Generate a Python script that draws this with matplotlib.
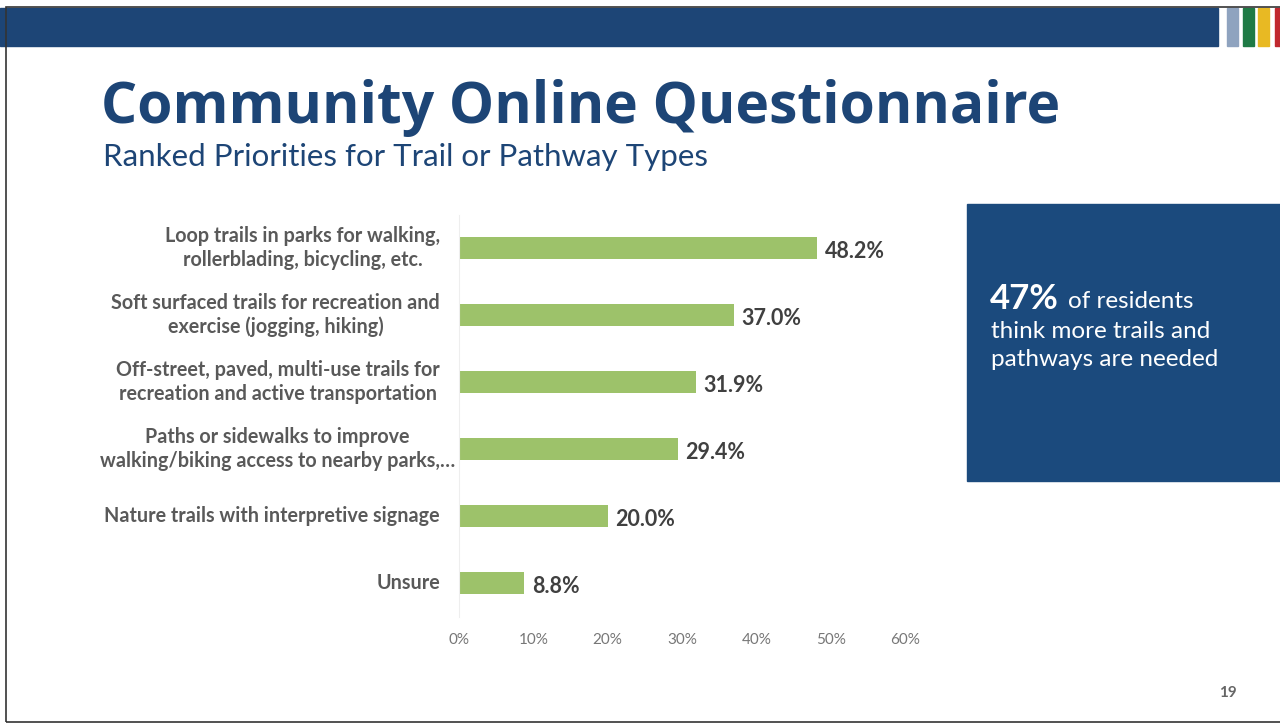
import matplotlib.pyplot as plt
import matplotlib.patches as patches

categories = [
    "Loop trails in parks for walking,\nrollerblading, bicycling, etc.",
    "Soft surfaced trails for recreation and\nexercise (jogging, hiking)",
    "Off-street, paved, multi-use trails for\nrecreation and active transportation",
    "Paths or sidewalks to improve\nwalking/biking access to nearby parks,\u2026",
    "Nature trails with interpretive signage",
    "Unsure",
]
values = [48.2, 37.0, 31.9, 29.4, 20.0, 8.8]
ticks = [0, 10, 20, 30, 40, 50, 60]

navy = "#1d4576"
green = "#9dc26a"
grey = "#595959"

fig = plt.figure(figsize=(12.8, 7.25), dpi=100)

def fx(px):
    return px / 1280

def fy(py):
    return 1 - py / 725

# banner and colour stripes
fig.patches.append(patches.Rectangle((0, fy(46)), fx(1218), fy(8) - fy(46),
                                     transform=fig.transFigure, color=navy))
for x0, x1, c in [(1227, 1238, "#8fa3bf"), (1243, 1254, "#1f7a45"),
                  (1258, 1269, "#e8b923"), (1275, 1280, "#c0282e")]:
    fig.patches.append(patches.Rectangle((fx(x0), fy(46)), fx(x1 - x0), fy(8) - fy(46),
                                         transform=fig.transFigure, color=c))
# thin slide frame
fig.patches.append(patches.Rectangle((fx(6), fy(722)), fx(1290), fy(7) - fy(722),
                                     transform=fig.transFigure, fill=False,
                                     edgecolor="#333333", linewidth=1.2))

fig.text(fx(101), fy(108), "Community Online Questionnaire", fontsize=41,
         fontweight="bold", color=navy, family="Open Sans", va="center")
fig.text(fx(103), fy(157), "Ranked Priorities for Trail or Pathway Types", fontsize=22.5,
         color=navy, family="Lato", va="center")

# right info box
fig.patches.append(patches.Rectangle((fx(967), fy(481)), fx(320), fy(204) - fy(481),
                                     transform=fig.transFigure, color="#1b4a7d"))
fig.text(fx(990), fy(299), "47%", fontsize=25, fontweight="bold", color="white",
         family="Lato", va="center")
fig.text(fx(1068), fy(301), "of residents", fontsize=17.5, color="white",
         family="Lato", va="center")
fig.text(fx(991), fy(331), "think more trails and", fontsize=17.5, color="white",
         family="Lato", va="center")
fig.text(fx(991), fy(360), "pathways are needed", fontsize=17.5, color="white",
         family="Lato", va="center")

fig.text(fx(1228), fy(693), "19", fontsize=11, fontweight="bold", color="#666666",
         family="Lato", ha="center", va="center")

ax = fig.add_axes([fx(459), fy(616.5), fx(446), fy(214.5) - fy(616.5)])
y = list(range(len(categories)))
ax.barh(y, values, height=0.33, color=green)
ax.set_ylim(len(categories) - 0.5, -0.5)
ax.set_xlim(0, 60)
ax.set_xticks(ticks)
ax.set_xticklabels([f"{t}%" for t in ticks], fontsize=11, color="#777777", family="Lato")
ax.tick_params(axis="x", length=0, pad=12)
ax.set_yticks([])
for s in ["top", "right", "bottom"]:
    ax.spines[s].set_visible(False)
ax.spines["left"].set_color("#eeeeee")

for i, (lab, v) in enumerate(zip(categories, values)):
    ax.text(v + 1.0, i + 0.05, f"{v:.1f}%", fontsize=15.5, fontweight="bold",
            color="#404040", family="Lato", va="center")
    xoff = -4 if "\u2026" in lab else -19
    ax.annotate(lab, (0, i), xytext=(xoff, 0), textcoords="offset pixels",
                ha="right", va="center", multialignment="center", fontsize=14.2,
                fontweight="bold", color=grey, family="Lato", linespacing=1.2)

fig.savefig("out.png", dpi=100)
